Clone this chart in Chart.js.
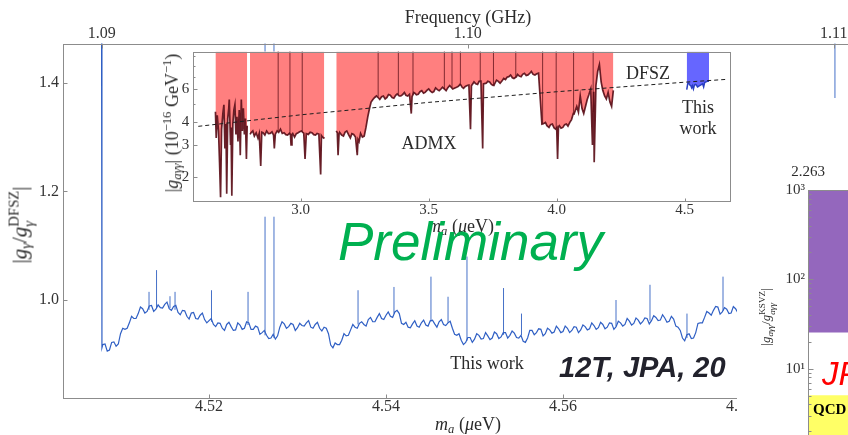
<!DOCTYPE html>
<html><head><meta charset="utf-8">
<script src="https://cdn.jsdelivr.net/npm/chart.js@4.4.1/dist/chart.umd.min.js"></script>
<style>
html,body{margin:0;padding:0;width:848px;height:435px;overflow:hidden;background:#fff;}
#stage{position:relative;width:848px;height:435px;overflow:hidden;background:#fff;}
.box{position:absolute;}
.t{position:absolute;white-space:nowrap;font-family:"Liberation Serif","Times New Roman",serif;color:#2b2b2b;line-height:1;}
.c{transform:translate(-50%,-50%);}
.r{transform:translate(-50%,-50%) rotate(-90deg);}
sub,sup{font-size:70%;line-height:0;}
sub{vertical-align:-0.25em;}
sup{vertical-align:0.55em;}
.ss{display:inline-flex;flex-direction:column;font-size:70%;line-height:1.05;vertical-align:0.55em;}
</style></head>
<body><div id="stage">
<div class="box" style="left:0;top:0;width:900px;height:435px"><canvas id="mainChart" width="900" height="435"></canvas></div>
<div class="box" style="left:140px;top:40px;width:600px;height:200px"><canvas id="insetChart" width="600" height="200"></canvas></div>

<div class="t c" style="left:468px;top:17px;font-size:18px">Frequency (GHz)</div>
<div class="t c" style="left:468px;top:424px;font-size:18px"><i>m</i><sub><i>a</i></sub> (<i>μ</i>eV)</div>
<div class="t r" style="left:22px;top:225px;font-size:21px">|<i>g</i><sub><i>γ</i></sub>/<i>g</i><span class="ss"><span>DFSZ</span><span><i>γ</i></span></span>|</div>
<div class="t c" style="left:487px;top:363px;font-size:18px">This work</div>

<div class="t r" style="left:172px;top:123px;font-size:18px">|<i>g</i><sub><i>aγγ</i></sub>| (10<sup>−16</sup> GeV<sup>−1</sup>)</div>
<div class="t c" style="left:461px;top:226px;font-size:18px"><i>m</i><sub><i>a</i></sub> (<i>μ</i>eV)</div>
<div class="t c" style="left:429px;top:143px;font-size:18px">ADMX</div>
<div class="t c" style="left:648px;top:73px;font-size:18px">DFSZ</div>
<div class="t c" style="left:698px;top:107px;font-size:18px">This</div>
<div class="t c" style="left:698px;top:128px;font-size:18px">work</div>

<div class="t" style="left:338px;top:215px;font-family:'Liberation Sans',Arial,sans-serif;font-style:italic;font-size:53px;color:#00b050">Preliminary</div>
<div class="t" style="left:559px;top:353px;font-family:'Liberation Sans',Arial,sans-serif;font-style:italic;font-weight:bold;font-size:29px;color:#22222c">12T, JPA, 20</div>

<div class="box" style="left:737px;top:98px;width:180px;height:400px;background:#fff"><canvas id="rightChart" width="180" height="400"></canvas></div>
<div class="t c" style="left:808px;top:171px;font-size:15px">2.263</div>
<div class="t r" style="left:768px;top:317px;font-size:13px">|<i>g</i><sub><i>aγγ</i></sub>/<i>g</i><span class="ss"><span>KSVZ</span><span><i>aγγ</i></span></span>|</div>
<div class="t" style="left:822px;top:357px;font-family:'Liberation Sans',Arial,sans-serif;font-style:italic;font-size:33px;color:#ff0000">JP</div>
<div class="t" style="left:813px;top:402px;font-size:15px;font-weight:bold;color:#000">QCD</div>
</div>
<script>
// ===== main panel: |g_gamma / g_gamma^DFSZ| versus axion mass (ueV) =====
const massGrid = [4.50785, 4.50790,
4.5080, 4.5085, 4.5090, 4.5095, 4.5100, 4.5105, 4.5110, 4.5115, 4.5120, 4.5125,
4.5130, 4.5135, 4.5140, 4.5145, 4.5150, 4.5155, 4.5160, 4.5165, 4.5170, 4.5175,
4.5180, 4.5185, 4.5190, 4.5195, 4.5200, 4.5205, 4.5210, 4.5215, 4.5220, 4.5225,
4.5230, 4.5235, 4.5240, 4.5245, 4.5250, 4.5255, 4.5260, 4.5265, 4.5270, 4.5275,
4.5280, 4.5285, 4.5290, 4.5295, 4.5300, 4.5305, 4.5310, 4.5315, 4.5320, 4.5325,
4.5330, 4.5335, 4.5340, 4.5345, 4.5350, 4.5355, 4.5360, 4.5365, 4.5370, 4.5375,
4.5380, 4.5385, 4.5390, 4.5395, 4.5400, 4.5405, 4.5410, 4.5415, 4.5420, 4.5425,
4.5430, 4.5435, 4.5440, 4.5445, 4.5450, 4.5455, 4.5460, 4.5465, 4.5470, 4.5475,
4.5480, 4.5485, 4.5490, 4.5495, 4.5500, 4.5505, 4.5510, 4.5515, 4.5520, 4.5525,
4.5530, 4.5535, 4.5540, 4.5545, 4.5550, 4.5555, 4.5560, 4.5565, 4.5570, 4.5575,
4.5580, 4.5585, 4.5590, 4.5595, 4.5600, 4.5605, 4.5610, 4.5615, 4.5620, 4.5625,
4.5630, 4.5635, 4.5640, 4.5645, 4.5650, 4.5655, 4.5660, 4.5665, 4.5670, 4.5675,
4.5680, 4.5685, 4.5690, 4.5695, 4.5700, 4.5705, 4.5710, 4.5715, 4.5720, 4.5725,
4.5730, 4.5735, 4.5740, 4.5745, 4.5750, 4.5755, 4.5760, 4.5765, 4.5770, 4.5775,
4.5780, 4.5785, 4.5790, 4.5795, 4.5800, 4.5805, 4.5810, 4.5820, 4.5830, 4.5840,
4.5850, 4.5860, 4.5870, 4.5880, 4.5890, 4.5900, 4.5910, 4.5920, 4.5930, 4.5940, 4.5950];
const ratioGrid = [1.60, 0.912,
0.918, 0.906, 0.922, 0.915, 0.938, 0.946, 0.958, 0.966, 0.975, 0.984,
0.979, 0.990, 0.983, 0.986, 0.992, 0.984, 0.988, 0.977, 0.981, 0.970,
0.976, 0.966, 0.972, 0.964, 0.962, 0.955, 0.958, 0.948, 0.955, 0.951,
0.945, 0.954, 0.948, 0.958, 0.946, 0.950, 0.940, 0.935, 0.930, 0.928,
0.950, 0.956, 0.951, 0.955, 0.949, 0.953, 0.958, 0.950, 0.955, 0.948,
0.950, 0.938, 0.912, 0.918, 0.926, 0.934, 0.945, 0.950, 0.957, 0.955,
0.964, 0.960, 0.968, 0.966, 0.972, 0.970, 0.978, 0.975, 0.955, 0.950,
0.956, 0.952, 0.958, 0.954, 0.962, 0.956, 0.960, 0.955, 0.958, 0.948,
0.935, 0.926, 0.922, 0.931, 0.928, 0.935, 0.929, 0.934, 0.930, 0.938,
0.932, 0.940, 0.935, 0.939, 0.930, 0.924, 0.930, 0.944, 0.940, 0.946,
0.938, 0.945, 0.941, 0.947, 0.942, 0.948, 0.944, 0.950, 0.945, 0.951,
0.947, 0.953, 0.949, 0.955, 0.950, 0.957, 0.951, 0.958, 0.955, 0.961,
0.957, 0.963, 0.960, 0.966, 0.962, 0.968, 0.963, 0.967, 0.961, 0.965,
0.950, 0.930, 0.936, 0.929, 0.940, 0.958, 0.968, 0.976, 0.981, 0.987,
0.978, 0.983, 0.976, 0.984, 0.980, 0.986, 0.982, 0.987, 0.983, 0.988,
0.984, 0.990, 0.985, 0.989, 0.984, 0.988, 0.985, 0.990, 0.986, 0.991, 0.987];
// in-between readings of the noisy trace
const massMid = [
4.50825, 4.50875, 4.50925, 4.50975, 4.51025, 4.51075, 4.51125, 4.51175, 4.51225, 4.51275,
4.51325, 4.51375, 4.51425, 4.51475, 4.51525, 4.51575, 4.51625, 4.51675, 4.51725, 4.51775,
4.51825, 4.51875, 4.51925, 4.51975, 4.52025, 4.52075, 4.52125, 4.52175, 4.52225, 4.52275,
4.52325, 4.52375, 4.52425, 4.52475, 4.52525, 4.52575, 4.52625, 4.52675, 4.52725, 4.52775,
4.52825, 4.52875, 4.52925, 4.52975, 4.53025, 4.53075, 4.53125, 4.53175, 4.53225, 4.53275,
4.53325, 4.53375, 4.53425, 4.53475, 4.53525, 4.53575, 4.53625, 4.53675, 4.53725, 4.53775,
4.53825, 4.53875, 4.53925, 4.53975, 4.54025, 4.54075, 4.54125, 4.54175, 4.54225, 4.54275,
4.54325, 4.54375, 4.54425, 4.54475, 4.54525, 4.54575, 4.54625, 4.54675, 4.54725, 4.54775,
4.54825, 4.54875, 4.54925, 4.54975, 4.55025, 4.55075, 4.55125, 4.55175, 4.55225, 4.55275,
4.55325, 4.55375, 4.55425, 4.55475, 4.55525, 4.55575, 4.55625, 4.55675, 4.55725, 4.55775,
4.55825, 4.55875, 4.55925, 4.55975, 4.56025, 4.56075, 4.56125, 4.56175, 4.56225, 4.56275,
4.56325, 4.56375, 4.56425, 4.56475, 4.56525, 4.56575, 4.56625, 4.56675, 4.56725, 4.56775,
4.56825, 4.56875, 4.56925, 4.56975, 4.57025, 4.57075, 4.57125, 4.57175, 4.57225, 4.57275,
4.57325, 4.57375, 4.57425, 4.57475, 4.57525, 4.57575, 4.57625, 4.57675, 4.57725, 4.57775,
4.57825, 4.57875, 4.57925, 4.57975, 4.58025];
const ratioMid = [
0.919, 0.908, 0.923, 0.919, 0.948, 0.948, 0.970, 0.966, 0.987, 0.976,
0.989, 0.979, 0.991, 0.985, 0.996, 0.981, 0.990, 0.973, 0.980, 0.965,
0.977, 0.965, 0.976, 0.958, 0.966, 0.951, 0.957, 0.944, 0.959, 0.944,
0.958, 0.946, 0.960, 0.946, 0.952, 0.937, 0.944, 0.929, 0.937, 0.934,
0.960, 0.948, 0.957, 0.944, 0.957, 0.952, 0.962, 0.948, 0.959, 0.943,
0.948, 0.917, 0.921, 0.918, 0.938, 0.935, 0.955, 0.948, 0.960, 0.952,
0.968, 0.960, 0.975, 0.964, 0.978, 0.968, 0.981, 0.957, 0.959, 0.949,
0.962, 0.950, 0.963, 0.952, 0.963, 0.950, 0.964, 0.953, 0.961, 0.937,
0.938, 0.918, 0.931, 0.922, 0.938, 0.928, 0.940, 0.927, 0.941, 0.929,
0.940, 0.930, 0.943, 0.931, 0.935, 0.922, 0.944, 0.936, 0.947, 0.934,
0.948, 0.939, 0.952, 0.940, 0.952, 0.940, 0.951, 0.940, 0.954, 0.945,
0.958, 0.946, 0.959, 0.947, 0.958, 0.946, 0.961, 0.952, 0.966, 0.954,
0.967, 0.956, 0.967, 0.956, 0.971, 0.962, 0.973, 0.959, 0.970, 0.952,
0.944, 0.925, 0.938, 0.930, 0.957, 0.958, 0.979, 0.972, 0.988, 0.974,
0.986, 0.975, 0.988, 0.977, 0.990];
const spikeMass = [4.51322, 4.51407, 4.51559, 4.51616, 4.52028, 4.52441, 4.52633, 4.52734, 4.53684, 4.54090,
                   4.54508, 4.54701, 4.54915, 4.55328, 4.55531, 4.56599, 4.56983, 4.57401, 4.57808, 4.59073];
const spikeBase = [0.982, 0.985, 0.985, 0.982, 0.960, 0.954, 0.935, 0.930, 0.955, 0.975,
                   0.960, 0.958, 0.925, 0.936, 0.935, 0.952, 0.962, 0.930, 0.980, 0.985];
const spikePeak = [1.015, 1.055, 1.007, 1.015, 1.018, 1.015, 1.60, 1.60, 1.018, 1.024,
                   1.043, 1.006, 1.080, 1.022, 0.975, 1.000, 1.028, 0.975, 1.043, 1.60];
const massTicks = [4.52, 4.54, 4.56, 4.58];
const freqTicks = [1.09, 1.10, 1.11];
const ratioTicks = [1.0, 1.2, 1.4];
const GHZ_PER_UEV = 0.241799;
const MAIN_MIN = 4.5035, MAIN_MAX = 4.59503, RATIO_MIN = 0.8202, RATIO_MAX = 1.4721;

// ===== inset: ADMX exclusion, DFSZ line, this work =====
const admxMassA = [2.667, 2.670, 2.674, 2.679, 2.683, 2.687, 2.691, 2.696, 2.700, 2.704, 2.708, 2.711, 2.715, 2.719, 2.721, 2.726, 2.728,
                   2.731, 2.735, 2.739, 2.743, 2.747, 2.751, 2.755, 2.760, 2.764, 2.768, 2.772, 2.776, 2.780, 2.784, 2.788, 2.791];
const admxLimitA = [4.52, 3.26, 4.33, 3.56, 2.41, 1.56, 3.64, 4.42, 4.93, 2.86, 3.88, 1.63, 4.15, 4.72, 5.27, 2.99, 3.72,
                    1.59, 3.88, 4.62, 4.93, 3.41, 4.24, 3.12, 4.62, 2.63, 5.27, 3.56, 4.72, 3.41, 4.15, 2.51, 3.80];
const admxMassB = [2.802, 2.806, 2.813, 2.819, 2.826, 2.833, 2.838, 2.8439, 2.848, 2.853, 2.860, 2.867, 2.874, 2.881, 2.888, 2.894, 2.897,
                   2.901, 2.908, 2.914, 2.921, 2.928, 2.935, 2.942, 2.949, 2.956, 2.960, 2.9623, 2.966, 2.969, 2.976, 2.983, 2.990,
                   2.996, 3.003, 3.008, 3.012, 3.017, 3.022, 3.030, 3.037, 3.044, 3.051, 3.058, 3.064, 3.071, 3.078, 3.081, 3.085,
                   3.090, 3.092];
const admxLimitB = [3.41, 3.48, 3.56, 3.34, 3.48, 3.26, 3.45, 2.30, 3.50, 3.48, 3.38, 3.56, 3.44, 3.45, 3.52, 3.38, 2.86,
                    3.42, 3.56, 3.50, 3.64, 3.45, 3.48, 3.40, 3.38, 3.46, 3.40, 2.99, 3.41, 3.45, 3.30, 3.44, 3.48,
                    3.52, 3.56, 3.50, 3.46, 2.51, 3.44, 3.41, 3.50, 3.48, 3.40, 3.38, 3.45, 3.42, 2.07, 3.36, 3.30,
                    3.26, 3.30];
const admxMassC = [
3.139, 3.143, 3.146, 3.150, 3.153, 3.160, 3.167, 3.173, 3.180, 3.187,
3.194, 3.200, 3.207, 3.214, 3.221, 3.224, 3.228, 3.234, 3.241, 3.248,
3.255, 3.262, 3.269, 3.275, 3.282, 3.289, 3.296, 3.305, 3.309, 3.316,
3.323, 3.330, 3.337, 3.343, 3.350, 3.357, 3.364, 3.371, 3.377, 3.385,
3.391, 3.398, 3.405, 3.411, 3.418, 3.425, 3.432, 3.435, 3.442, 3.446,
3.452, 3.459, 3.466, 3.473, 3.480, 3.486, 3.493, 3.500, 3.507, 3.514,
3.520, 3.527, 3.534, 3.541, 3.548, 3.554, 3.564, 3.568, 3.575, 3.582,
3.594, 3.600, 3.609, 3.616, 3.6224, 3.626, 3.630, 3.636, 3.643, 3.650,
3.657, 3.6633, 3.667, 3.677, 3.684, 3.691, 3.697, 3.704, 3.7109, 3.714,
3.7245, 3.731, 3.738, 3.745, 3.7517, 3.755, 3.765, 3.772, 3.779, 3.786,
3.793, 3.800, 3.806, 3.813, 3.820, 3.827, 3.833, 3.843, 3.847, 3.854,
3.861, 3.867, 3.874, 3.881, 3.888, 3.895, 3.901, 3.908, 3.915, 3.922,
3.929, 3.935, 3.9423, 3.948, 3.956, 3.962, 3.970, 3.976, 3.983, 3.990,
3.9967, 4.000, 4.0035, 4.007, 4.0104, 4.017, 4.024, 4.031, 4.0376, 4.044,
4.0512, 4.058, 4.0648, 4.068, 4.0784, 4.085, 4.092, 4.099, 4.1056, 4.112,
4.1193, 4.126, 4.1329, 4.1397, 4.1445, 4.1465, 4.1533, 4.1601, 4.1669, 4.1737,
4.180, 4.1873, 4.194, 4.2009, 4.208, 4.2145, 4.2213];
const admxLimitC = [
3.56, 3.48, 2.63, 3.45, 3.48, 3.38, 3.34, 3.50, 3.56, 3.40,
3.26, 3.44, 3.41, 3.30, 2.63, 3.20, 3.12, 3.45, 3.30, 3.34,
3.72, 4.24, 4.72, 5.10, 5.27, 5.40, 5.50, 5.35, 5.27, 5.45,
5.50, 5.30, 5.40, 5.60, 5.55, 5.40, 5.35, 5.55, 5.65, 5.50,
5.50, 5.60, 5.74, 5.55, 5.50, 5.62, 4.42, 5.45, 5.74, 5.70,
5.58, 5.62, 5.80, 5.88, 5.70, 5.75, 5.90, 6.00, 5.85, 5.74,
5.80, 6.08, 5.95, 5.88, 6.00, 6.13, 5.95, 5.88, 6.10, 6.27,
6.00, 6.05, 6.13, 6.20, 6.35, 6.30, 6.15, 6.05, 6.20, 6.27,
6.30, 3.64, 6.25, 6.55, 6.40, 6.35, 6.60, 6.62, 2.86, 6.40,
6.45, 6.60, 6.55, 6.35, 6.27, 6.30, 6.70, 6.60, 6.45, 6.62,
6.84, 6.75, 6.95, 7.00, 7.14, 6.90, 6.84, 7.00, 7.20, 7.05,
6.99, 7.20, 7.30, 7.10, 7.15, 7.30, 7.46, 7.20, 7.14, 7.25,
7.30, 5.50, 3.88, 3.90, 3.96, 3.80, 3.72, 3.85, 3.88, 3.70,
3.64, 3.70, 2.51, 3.75, 3.80, 3.68, 3.72, 3.85, 3.88, 3.78,
3.96, 4.10, 4.42, 4.40, 4.83, 4.50, 5.50, 4.70, 4.42, 4.80,
5.27, 5.60, 6.00, 2.99, 5.80, 2.41, 6.27, 7.46, 8.13, 6.55,
5.90, 5.50, 5.30, 5.74, 5.10, 4.83, 5.90];
// upward excursions of the ADMX limit (thin dark lines to the top)
const admxSpikeMass = [2.912, 2.958, 3.006, 3.3026, 3.3815, 3.4387, 3.5612, 3.5911, 3.6238, 3.7014, 3.753, 3.8402, 3.945, 3.998, 4.066, 4.1424];
const admxSpikeBase = [3.55, 3.42, 3.52, 5.45, 5.58, 5.60, 6.00, 6.10, 6.30, 6.60, 6.30, 6.90, 3.90, 3.68, 4.42, 4.50];
const thisWorkMass = [4.508, 4.512, 4.516, 4.520, 4.524, 4.527, 4.530, 4.534, 4.538, 4.542, 4.546, 4.550,
                      4.554, 4.558, 4.562, 4.566, 4.570, 4.574, 4.578, 4.582, 4.586, 4.590, 4.595];
const thisWorkLimit = [5.95, 6.40, 6.45, 6.30, 6.25, 6.10, 6.25, 6.00, 6.30, 6.35, 6.30, 6.15,
                       6.20, 6.25, 6.30, 6.35, 6.40, 6.15, 6.50, 6.55, 6.58, 6.62, 6.60];
const dfszMass = [2.60, 3.00, 3.50, 4.00, 4.50, 4.66];
const dfszLimit = [3.77, 4.35, 5.08, 5.80, 6.53, 6.76];
const insetMassTicks = [3.0, 3.5, 4.0, 4.5];
const insetLimitTicks = [2, 3, 4, 5, 6, 7, 8, 9];
const insetLimitLabels = [2, 3, 4, 6];
const INSET_TOP = 9.57;

// ===== right panel: |g/g_KSVZ| bands =====
const bandCategories = ['band'];
const purpleBand = [25.7, 1000];
const yellowBand = [0.5, 5.0];
const rightTicks = [1,2,3,4,5,6,7,8,9,10,20,30,40,50,60,70,80,90,100,200,300,400,500,600,700,800,900,1000];
const rightLabels = {10: '10¹', 100: '10²', 1000: '10³'};

const SERIF = "'Liberation Serif','Times New Roman',serif";
const AXIS_GREY = '#8c8c8c';

const axisDeco = {
  id: 'axisDeco',
  beforeDraw(chart, args, o) {
    if (!o.bg) return;
    const ca = chart.chartArea, ctx = chart.ctx;
    ctx.save(); ctx.fillStyle = '#fff';
    ctx.fillRect(ca.left + o.bg[0], ca.top + o.bg[1], ca.right - ca.left + o.bg[2], ca.bottom - ca.top + o.bg[3]);
    ctx.restore();
  },
  afterDraw(chart, args, o) {
    const ctx = chart.ctx, ca = chart.chartArea;
    ctx.save();
    ctx.strokeStyle = AXIS_GREY; ctx.lineWidth = 1;
    const L = Math.round(ca.left) + 0.5, R = Math.round(ca.right) + 0.5, T = Math.round(ca.top) + 0.5, B = Math.round(ca.bottom) + 0.5;
    ctx.strokeRect(L, T, R - L, B - T);
    const inward = o.inward || {};
    for (const id in inward) {
      const s = chart.scales[id];
      const [maj, mn] = inward[id];
      s.ticks.forEach(t => {
        const len = (t.label === '' ? mn : maj);
        const p = Math.round(s.getPixelForValue(t.value)) + 0.5;
        ctx.beginPath();
        if (s.isHorizontal()) {
          const y0 = s.position === 'top' ? T : B, d = s.position === 'top' ? 1 : -1;
          ctx.moveTo(p, y0); ctx.lineTo(p, y0 + d * len);
        } else {
          ctx.moveTo(L, p); ctx.lineTo(L + len, p);
        }
        ctx.stroke();
      });
    }
    ctx.restore();
  }
};

function tickFont(size) { return {family: SERIF, size: size, lineHeight: 1}; }
function fixedTicks(list) { return s => { s.ticks = list.map(v => ({value: v})); }; }
function vSegments(ms, lo, hi) {
  const out = [];
  ms.forEach((m, i) => { out.push({x: m, y: lo[i]}, {x: m, y: Array.isArray(hi) ? hi[i] : hi}, {x: m, y: null}); });
  return out;
}

// ---- main chart ----
const mainPts = massGrid.map((m, i) => ({x: m, y: ratioGrid[i]}))
  .concat(massMid.map((m, i) => ({x: m, y: ratioMid[i]})))
  .sort((a, b) => a.x - b.x);

new Chart(document.getElementById('mainChart'), {
  type: 'line',
  data: {datasets: [
    {data: mainPts, borderColor: '#2f5fc4', borderWidth: 1.2, pointRadius: 0, tension: 0, xAxisID: 'x', yAxisID: 'y'},
    {data: vSegments(spikeMass, spikeBase, spikePeak), borderColor: '#4671c8', borderWidth: 1, pointRadius: 0, spanGaps: false, xAxisID: 'x', yAxisID: 'y'}
  ]},
  options: {
    responsive: false, animation: false, devicePixelRatio: 1,
    layout: {padding: {left: 0, right: 27, top: 0, bottom: 0}},
    plugins: {legend: {display: false}, tooltip: {enabled: false}, axisDeco: {inward: {x: [4, 4], x2: [4, 4], y: [4, 4]}}},
    scales: {
      x: {type: 'linear', position: 'bottom', min: MAIN_MIN, max: MAIN_MAX, afterBuildTicks: fixedTicks(massTicks),
          afterFit: s => { s.height = 37.3; },
          grid: {display: false, drawTicks: false}, border: {display: false},
          ticks: {callback: v => v.toFixed(2), font: tickFont(16), color: '#333', padding: 1, maxRotation: 0, autoSkip: false}},
      x2: {type: 'linear', position: 'top', min: MAIN_MIN * GHZ_PER_UEV, max: MAIN_MAX * GHZ_PER_UEV, afterBuildTicks: fixedTicks(freqTicks),
          afterFit: s => { s.height = 43.5; },
          grid: {display: false, drawTicks: false}, border: {display: false},
          ticks: {callback: v => v.toFixed(2), font: tickFont(16), color: '#333', padding: 2, maxRotation: 0, autoSkip: false}},
      y: {type: 'linear', position: 'left', min: RATIO_MIN, max: RATIO_MAX, afterBuildTicks: fixedTicks(ratioTicks),
          afterFit: s => { s.width = 63; },
          grid: {display: false, drawTicks: false}, border: {display: false},
          ticks: {callback: v => v.toFixed(1), font: tickFont(16), color: '#333', padding: 4, autoSkip: false}}
    }
  },
  plugins: [axisDeco]
});

// ---- inset chart ----
const toPts = (ms, gs) => ms.map((m, i) => ({x: m, y: gs[i]}));
const admxStyle = {fill: 'end', backgroundColor: 'rgba(255,0,0,0.5)', borderColor: 'rgba(88,12,22,0.9)', borderWidth: 1.7, pointRadius: 0, tension: 0};
new Chart(document.getElementById('insetChart'), {
  type: 'line',
  data: {datasets: [
    {data: toPts(dfszMass, dfszLimit), borderColor: '#1e1e1e', borderWidth: 1, borderDash: [4, 3], pointRadius: 0, fill: false},
    {data: vSegments(admxSpikeMass, admxSpikeBase, INSET_TOP + 1), borderColor: 'rgba(88,12,22,0.75)', borderWidth: 1, pointRadius: 0, spanGaps: false, fill: false},
    {data: toPts(thisWorkMass, thisWorkLimit), fill: 'end', backgroundColor: 'rgba(0,0,255,0.6)', borderColor: '#2a3fc2', borderWidth: 1.5, pointRadius: 0},
    Object.assign({data: toPts(admxMassA, admxLimitA)}, admxStyle),
    Object.assign({data: toPts(admxMassB, admxLimitB)}, admxStyle),
    Object.assign({data: toPts(admxMassC, admxLimitC)}, admxStyle)
  ]},
  options: {
    responsive: false, animation: false, devicePixelRatio: 1,
    layout: {padding: {left: 0, right: 10, top: 8.2, bottom: 0}},
    plugins: {legend: {display: false}, tooltip: {enabled: false}, axisDeco: {bg: [-38, 0, 43, 16], inward: {x: [3, 3], y: [4, 2]}}},
    scales: {
      x: {type: 'linear', position: 'bottom', min: 2.5805, max: 4.677, afterBuildTicks: fixedTicks(insetMassTicks),
          afterFit: s => { s.height = 39.3; },
          grid: {display: false, drawTicks: false}, border: {display: false},
          ticks: {callback: v => v.toFixed(1), font: tickFont(15), color: '#333', padding: 1.5, maxRotation: 0, autoSkip: false}},
      y: {type: 'logarithmic', position: 'left', min: 1.494, max: INSET_TOP, afterBuildTicks: fixedTicks(insetLimitTicks),
          afterFit: s => { s.width = 53.3; },
          grid: {display: false, drawTicks: false}, border: {display: false},
          ticks: {callback: v => insetLimitLabels.includes(v) ? String(v) : '', font: tickFont(15), color: '#333', padding: 4, autoSkip: false}}
    }
  },
  plugins: [axisDeco]
});

// ---- right chart ----
new Chart(document.getElementById('rightChart'), {
  type: 'bar',
  data: {labels: bandCategories, datasets: [
    {data: [purpleBand], backgroundColor: '#9467bd', grouped: false, barPercentage: 1, categoryPercentage: 1, borderWidth: 0},
    {data: [yellowBand], backgroundColor: '#ffff66', grouped: false, barPercentage: 1, categoryPercentage: 1, borderWidth: 0}
  ]},
  options: {
    responsive: false, animation: false, devicePixelRatio: 1,
    layout: {padding: {left: 0, right: 0, top: 92, bottom: 20}},
    plugins: {legend: {display: false}, tooltip: {enabled: false}, axisDeco: {inward: {y: [5, 3]}}},
    scales: {
      x: {display: false},
      y: {type: 'logarithmic', position: 'left', min: 0.631, max: 1000, afterBuildTicks: fixedTicks(rightTicks),
          afterFit: s => { s.width = 71; },
          grid: {display: false, drawTicks: false}, border: {display: false},
          ticks: {callback: v => rightLabels[v] || '', font: tickFont(15), color: '#333', padding: 3, autoSkip: false}}
    }
  },
  plugins: [axisDeco]
});
</script>
</body></html>
